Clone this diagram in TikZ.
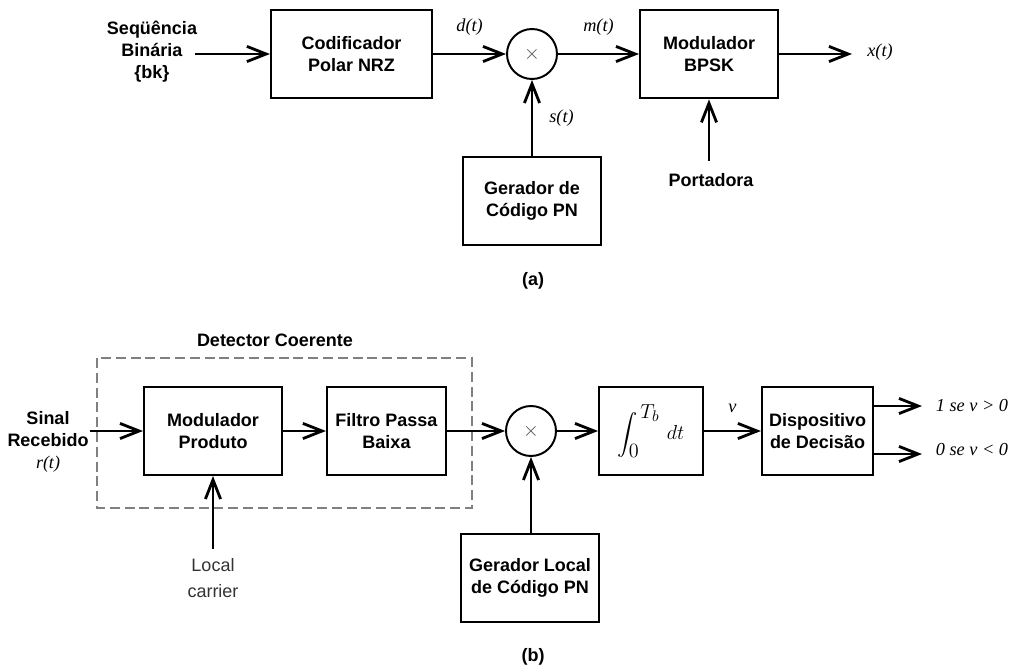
\documentclass[tikz,border=0pt]{standalone}
\usepackage{amsmath}
\usepackage{fontspec}
\setmainfont{Liberation Sans}
\newfontfamily\tmsfont{Liberation Serif}
\usetikzlibrary{arrows.meta}

\begin{document}
\begin{tikzpicture}[x=0.25mm,y=-0.25mm,line width=2pt,>={Straight Barb[length=4.8mm,width=3.8mm]},
  blk/.style={draw,line width=1.4pt,align=center,font=\fontsize{12.8}{15.6}\selectfont\bfseries},
  mix/.style={draw,circle,line width=1.4pt,inner sep=0pt,text=black!70,font=\fontsize{14}{14}\selectfont},
  lbl/.style={font=\fontsize{12.8}{15.6}\selectfont\bfseries,align=center},
  sig/.style={font=\fontsize{13}{15}\selectfont\tmsfont\itshape}]
  \useasboundingbox (0,0) rectangle (1011,670);
  % (a) transmissor
  \node[lbl] (seq) at (152,52) {Seqüência\\Binária\\\{bk\}};
  \coordinate (bin) at (195,54);
  \node[blk,minimum width=4.03cm,minimum height=2.18cm] (cod) at (351.5,54) {Codificador\\Polar NRZ};
  \node[mix,minimum size=1.25cm] (mixa) at (532,54) {$\times$};
  \node[blk,minimum width=3.45cm,minimum height=2.22cm] (bpsk) at (709,54) {Modulador\\BPSK};
  \coordinate (xo) at (852,54);
  \node[sig] (xt) at (880,52) {x(t)};
  \node[blk,minimum width=3.45cm,minimum height=2.2cm] (pn) at (532,201) {Gerador de\\Código PN};
  \node[lbl,inner ysep=8pt] (port) at (711,180) {Portadora};
  \draw[->] (bin) -- (cod.west);
  \draw[->] (cod) -- (mixa) node[sig,pos=0.5,above=9pt] (dt) {d(t)};
  \draw[->] (mixa) -- (bpsk) node[sig,pos=0.5,above=9pt] (mt) {m(t)};
  \draw[->] (bpsk) -- (xo);
  \draw[->] (pn) -- (mixa) node[sig,pos=0.5,right=8pt] (st) {s(t)};
  \draw[->] (port.north -| bpsk.south) -- (bpsk.south);
  \node[lbl] (capa) at (533,281) {(a)};
  % (b) receptor
  \node[lbl] (detc) at (275,340) {Detector Coerente};
  \draw[gray,line width=0.9pt,dash pattern=on 2.5mm off 1.2mm] (97,358) rectangle (472,508);
  \node[lbl,inner sep=0pt] (rt) at (48,442) {Sinal\\Recebido\\{\mdseries\tmsfont\itshape r(t)}};
  \node[blk,minimum width=3.45cm,minimum height=2.2cm] (prod) at (213,431) {Modulador\\Produto};
  \node[blk,minimum width=2.98cm,minimum height=2.2cm] (lpf) at (386.5,431) {Filtro Passa\\Baixa};
  \node[mix,minimum size=1.25cm] (mixb) at (531,431) {$\times$};
  \node[blk,minimum width=2.6cm,minimum height=2.2cm,font=\fontsize{15}{17}\selectfont] (integ) at (651,431) {$\displaystyle\int_{\textstyle 0}^{\,\textstyle T_b}\, dt$};
  \node[blk,minimum width=2.78cm,minimum height=2.2cm] (dec) at (817.5,431) {Dispositivo\\de Decisão};
  \coordinate (one) at (922,406);
  \coordinate (zero) at (922,454);
  \node[sig] (lone) at (972,406) {1 se v > 0};
  \node[sig] (lzero) at (972,450) {0 se v < 0};
  \node[blk,minimum width=3.45cm,minimum height=2.2cm] (lpn) at (530,578) {Gerador Local\\de Código PN};
  \node[align=center,inner ysep=6pt,text=black!80,font=\fontsize{12.8}{18}\selectfont] (carr) at (213,578) {Local\\carrier};
  \draw[->] (rt.east |- prod.west) -- (prod.west);
  \draw[->] (prod) -- (lpf);
  \draw[->] (lpf) -- (mixb);
  \draw[->] (mixb) -- (integ);
  \draw[->] (integ) -- (dec) node[sig,pos=0.5,above=9pt] (vv) {v};
  \draw[->] (dec.east |- one) -- (one);
  \draw[->] (dec.east |- zero) -- (zero);
  \draw[->] (lpn.north -| mixb.south) -- (mixb.south);
  \draw[->] (carr.north -| prod.south) -- (prod.south);
  \node[lbl] (capb) at (533,657) {(b)};
\end{tikzpicture}
\end{document}
